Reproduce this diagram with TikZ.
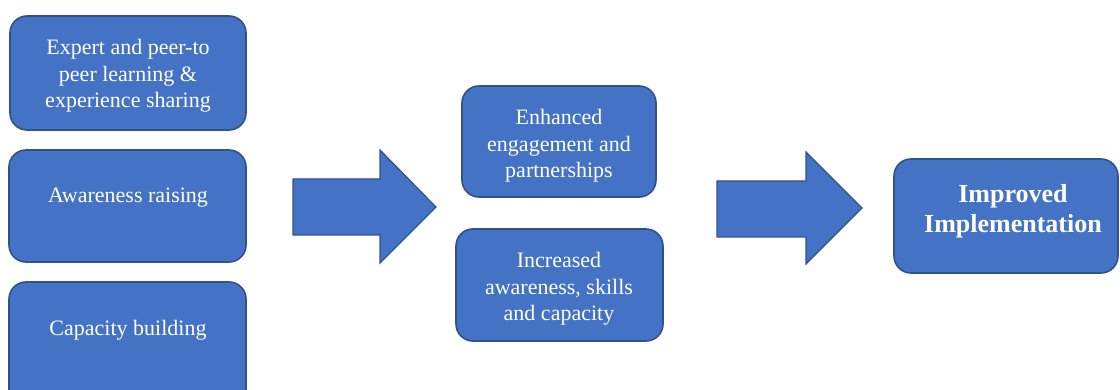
\documentclass[tikz,border=0pt]{standalone}
\usepackage{fontspec}
\setmainfont{Liberation Serif}
\definecolor{boxfill}{HTML}{4472C4}
\definecolor{boxline}{HTML}{2F528F}
\begin{document}
\begin{tikzpicture}[x=1pt,y=-1pt,
  box/.style={draw=boxline, fill=boxfill, line width=1.6pt, rounded corners=17pt},
  blockarrow/.style={draw=boxline, fill=boxfill, line width=1.2pt, line join=miter},
  txt/.style={text=white, align=center, inner sep=0pt, font=\fontsize{22}{26.5}\selectfont},
  bigtxt/.style={text=white, align=center, inner sep=0pt, font=\fontsize{26}{29.5}\selectfont\bfseries}]
\useasboundingbox (0,0) rectangle (1120,390);
\clip (0,0) rectangle (1120,390);
% left boxes
\path[box] (10,16) rectangle (246,130);
\path[box] (9,150) rectangle (246,262);
\path[box] (9,282) rectangle (246,410);
\node[txt] (t1) at (128,76) {Expert and peer-to\\peer learning \&\\experience sharing};
\node[txt] (t2) at (128,198) {Awareness raising};
\node[txt] (t3) at (128,330) {Capacity building};
% arrow 1
\path[blockarrow] (293,179) -- (380,179) -- (380,150) -- (436,207) -- (380,263) -- (380,235) -- (293,235) -- cycle;
% middle boxes
\path[box] (462,86) rectangle (656,197);
\path[box] (456,229) rectangle (663,341);
\node[txt] (t4) at (559,146) {Enhanced\\engagement and\\partnerships};
\node[txt] (t5) at (559,289) {Increased\\awareness, skills\\and capacity};
% arrow 2
\path[blockarrow] (717,181) -- (806,181) -- (806,152) -- (862,208) -- (806,264) -- (806,237) -- (717,237) -- cycle;
% right box
\path[box] (894,159) rectangle (1118,273);
\node[bigtxt] (t6) at (1013,211) {Improved\\Implementation};
\end{tikzpicture}
\end{document}
